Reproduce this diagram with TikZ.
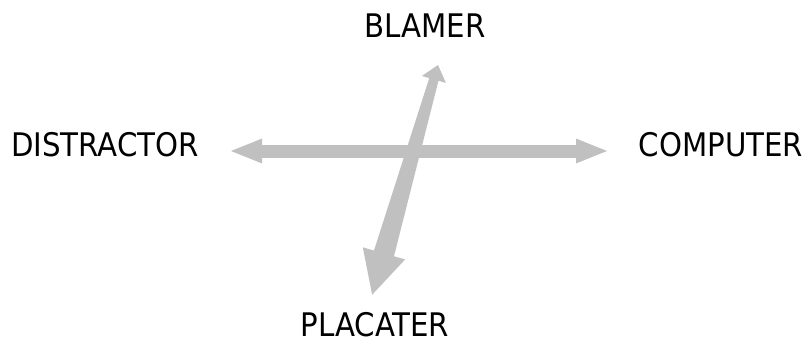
\documentclass[tikz,border=0pt]{standalone}
\usepackage{fontspec}
\setmainfont{DejaVu Sans Condensed}
\usepackage{xcolor}
\usetikzlibrary{arrows.meta}
\definecolor{arrowgray}{HTML}{C0C0C0}

\begin{document}
\begin{tikzpicture}[x=1pt,y=1pt,
    rolename/.style={font=\fontsize{32.5}{38}\selectfont,anchor=base,inner sep=0pt},
    wideline/.style={arrowgray,line width=13pt,
        {Triangle[length=33pt,width=22pt]}-{Triangle[length=33pt,width=22pt]}}]
    \def\axisangle{254}
    \useasboundingbox (0,0) rectangle (804,-345);

    \node[rolename] (blamer) at (425,-38) {BLAMER};
    \node[rolename] (distractor) at (105,-156) {DISTRACTOR};
    \node[rolename] (computer) at (721,-156) {COMPUTER};
    \node[rolename] (placater) at (375,-336) {PLACATER};

    \coordinate (distend) at (229,-151);
    \coordinate (compend) at (609,-151);
    \coordinate (blamertip) at (438,-65);

    \draw[wideline] (distend) -- (compend);

    \begin{scope}[shift={(blamertip)},rotate=\axisangle]
        \fill[arrowgray] (0,0) -- (15,12.5) -- (15,4.8) -- (196,10.4)
            -- (196,22) -- (239,0) -- (196,-22) -- (196,-10.4)
            -- (15,-4.8) -- (15,-12.5) -- cycle;
    \end{scope}
\end{tikzpicture}
\end{document}
